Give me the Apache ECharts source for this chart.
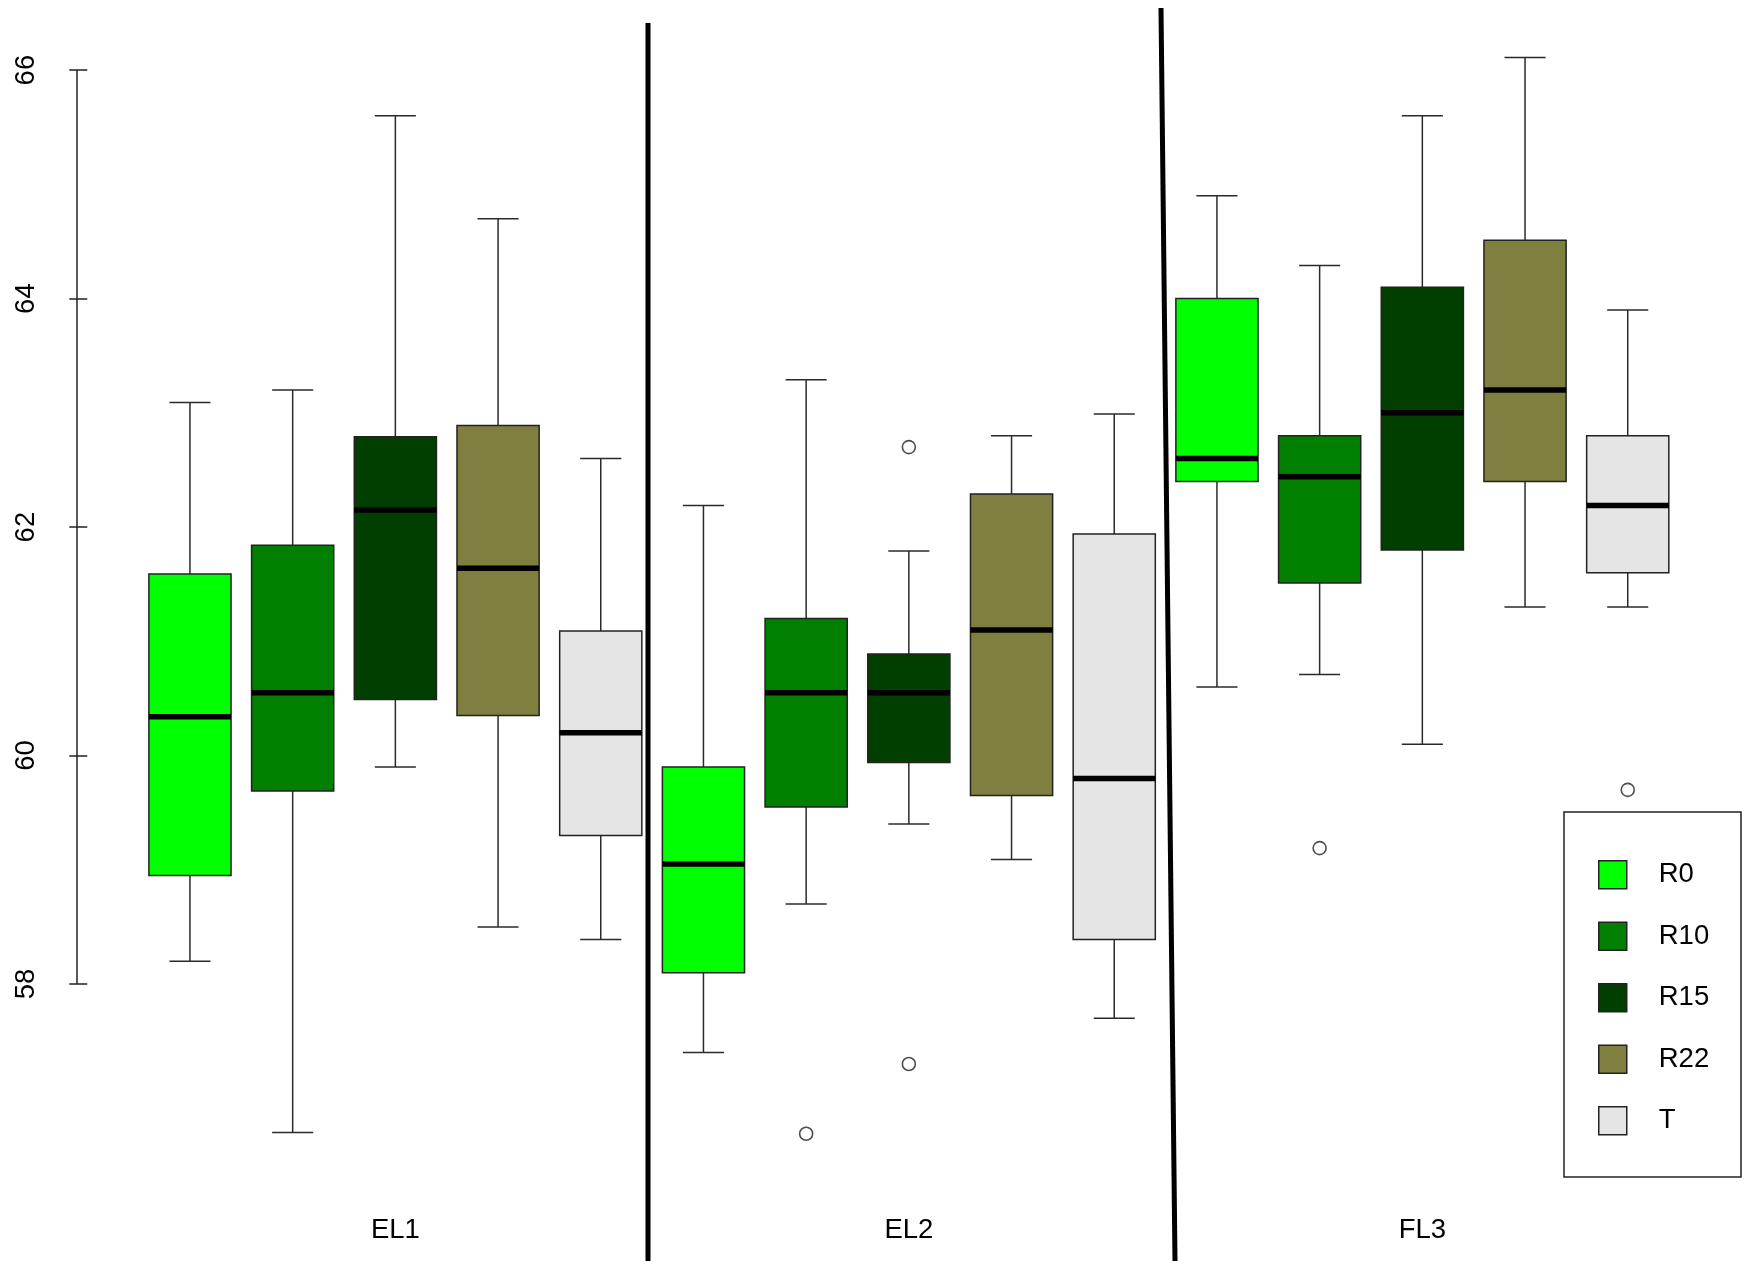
<!DOCTYPE html>
<html>
<head>
<meta charset="utf-8">
<script src="https://cdn.jsdelivr.net/npm/echarts@6/dist/echarts.min.js"></script>
<style>
html,body{margin:0;padding:0;background:#fff;}
#chart{width:1750px;height:1261px;}
</style>
</head>
<body>
<div id="chart"></div>
<script>
// ---- data ----
const groups = ['EL1', 'EL2', 'FL3'];
const treatments = ['R0', 'R10', 'R15', 'R22', 'T'];
const yTicks = [58, 60, 62, 64, 66];
// [min, Q1, median, Q3, max] per group (EL1, EL2, FL3)
const statsR0  = [[58.20, 58.95, 60.34, 61.59, 63.09], [57.40, 58.10, 59.05, 59.90, 62.19], [60.60, 62.40, 62.60, 64.00, 64.90]];
const statsR10 = [[56.70, 59.69, 60.55, 61.84, 63.20], [58.70, 59.55, 60.55, 61.20, 63.29], [60.71, 61.51, 62.44, 62.80, 64.29]];
const statsR15 = [[59.90, 60.49, 62.15, 62.79, 65.60], [59.40, 59.94, 60.55, 60.89, 61.79], [60.10, 61.80, 63.00, 64.10, 65.60]];
const statsR22 = [[58.50, 60.35, 61.64, 62.89, 64.70], [59.09, 59.65, 61.10, 62.29, 62.80], [61.30, 62.40, 63.20, 64.51, 66.11]];
const statsT   = [[58.39, 59.30, 60.20, 61.09, 62.60], [57.70, 58.39, 59.80, 61.94, 62.99], [61.30, 61.60, 62.19, 62.80, 63.90]];
// outliers per group (EL1, EL2, FL3)
const outR0  = [[], [], []];
const outR10 = [[], [56.69], [59.19]];
const outR15 = [[], [62.70, 57.30], []];
const outR22 = [[], [], []];
const outT   = [[], [], [59.70]];

// ---- styles ----
const fills = ['#00FF00', '#007F00', '#003F00', '#7F7F3F', '#E5E5E5'];
const FONT = '"Liberation Sans", Arial, sans-serif';
const allStats = [statsR0, statsR10, statsR15, statsR22, statsT];
const allOut = [outR0, outR10, outR15, outR22, outT];

function pos(g, t) { return g * treatments.length + t + 1; }

function renderBox(params, api) {
  const x = api.value(0);
  const lo = api.value(1), q1 = api.value(2), med = api.value(3), q3 = api.value(4), hi = api.value(5);
  const halfW = api.size([0.8, 0])[0] / 2;
  const capW = halfW * 0.5;
  const cx = api.coord([x, med])[0];
  const y = v => api.coord([x, v])[1];
  const wl = { stroke: '#2a2a2a', lineWidth: 1.5 };
  return {
    type: 'group',
    children: [
      { type: 'line', shape: { x1: cx, y1: y(hi), x2: cx, y2: y(q3) }, style: wl },
      { type: 'line', shape: { x1: cx, y1: y(q1), x2: cx, y2: y(lo) }, style: wl },
      { type: 'line', shape: { x1: cx - capW, y1: y(hi), x2: cx + capW, y2: y(hi) }, style: wl },
      { type: 'line', shape: { x1: cx - capW, y1: y(lo), x2: cx + capW, y2: y(lo) }, style: wl },
      { type: 'rect', shape: { x: cx - halfW, y: y(q3), width: 2 * halfW, height: y(q1) - y(q3) },
        style: { fill: api.visual('color'), stroke: '#222', lineWidth: 1.5 } },
      { type: 'line', shape: { x1: cx - halfW, y1: y(med), x2: cx + halfW, y2: y(med) },
        style: { stroke: '#000', lineWidth: 5.5 } }
    ]
  };
}

const series = [];
treatments.forEach((name, t) => {
  series.push({
    name: name,
    type: 'custom',
    renderItem: renderBox,
    itemStyle: { color: fills[t] },
    encode: { x: 0, y: [1, 2, 3, 4, 5] },
    data: allStats[t].map((s, g) => [pos(g, t)].concat(s)),
    silent: true,
    z: 3
  });
  const pts = [];
  allOut[t].forEach((arr, g) => arr.forEach(v => pts.push([pos(g, t), v])));
  series.push({
    name: name + '_out',
    type: 'scatter',
    symbol: 'circle',
    symbolSize: 13,
    itemStyle: { color: 'rgba(255,255,255,0)', borderColor: '#222', borderWidth: 1.6 },
    data: pts,
    silent: true,
    z: 4
  });
});
// y axis line spanning only the tick range
series.push({
  name: 'yaxisline',
  type: 'line',
  data: [[-0.1, yTicks[0]], [-0.1, yTicks[yTicks.length - 1]]],
  symbol: 'none',
  lineStyle: { color: '#222', width: 1.5 },
  clip: false,
  silent: true,
  z: 5
});

const chart = echarts.init(document.getElementById('chart'), null, { renderer: 'canvas' });
chart.setOption({
  animation: false,
  backgroundColor: '#ffffff',
  grid: { left: 77, right: 9.3, top: 13, bottom: 71.3, containLabel: false },
  xAxis: {
    type: 'value',
    min: -0.1,
    max: 16.1,
    axisLine: { show: false },
    axisTick: { show: false },
    splitLine: { show: false },
    axisLabel: {
      customValues: groups.map((g, i) => pos(i, 2)),
      formatter: v => groups[Math.round((v - 3) / 5)],
      fontFamily: FONT,
      fontSize: 27.5,
      color: '#000',
      margin: 27
    }
  },
  yAxis: {
    type: 'value',
    min: 56.2,
    max: 66.5,
    axisLine: { show: false },
    splitLine: { show: false },
    axisTick: { show: true, customValues: yTicks, length: 18, lineStyle: { color: '#222', width: 1.5 } },
    axisLabel: {
      customValues: yTicks,
      rotate: 90,
      fontFamily: FONT,
      fontSize: 27.5,
      color: '#000',
      margin: 37
    }
  },
  legend: {
    orient: 'vertical',
    left: 1598,
    top: 860,
    padding: 0,
    itemWidth: 28,
    itemHeight: 28,
    itemGap: 32,
    selectedMode: false,
    textStyle: { fontFamily: FONT, fontSize: 27.5, color: '#000', lineHeight: 28, padding: [0, 0, 0, 27] },
    data: treatments.map((n, t) => ({
      name: n, icon: 'rect',
      itemStyle: { color: fills[t], borderColor: '#222', borderWidth: 1.5 }
    }))
  },
  graphic: [
    { type: 'rect', shape: { x: 1564, y: 812, width: 177, height: 365 },
      style: { fill: 'none', stroke: '#222', lineWidth: 1.5 }, z: 10 },
    { type: 'line', shape: { x1: 648, y1: 23, x2: 648, y2: 1261 },
      style: { stroke: '#000', lineWidth: 5 }, z: 10 },
    { type: 'line', shape: { x1: 1161, y1: 8, x2: 1175, y2: 1261 },
      style: { stroke: '#000', lineWidth: 5 }, z: 10 }
  ],
  series: series
});
</script>
</body>
</html>
